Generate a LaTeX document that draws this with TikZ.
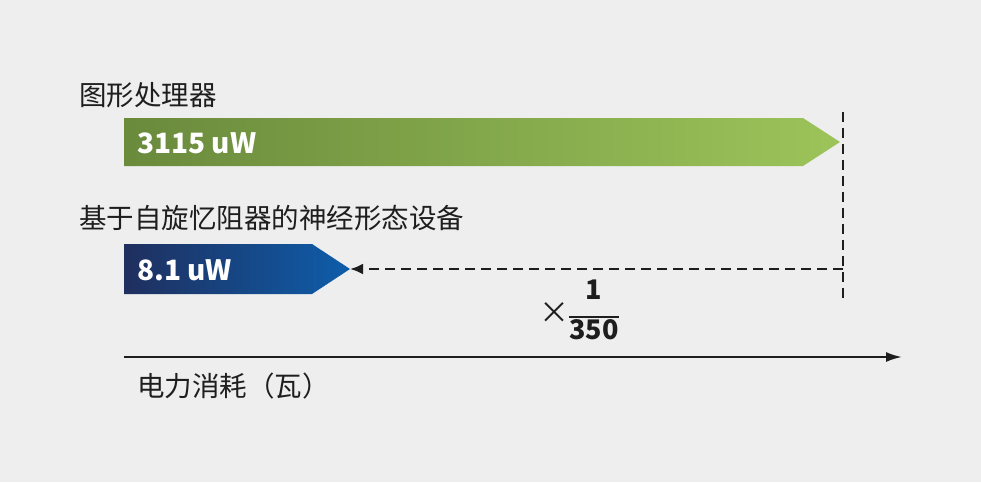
\documentclass[tikz,border=0pt]{standalone}
\usepackage{fontspec}
\setmainfont{Noto Sans CJK SC}
\usetikzlibrary{arrows.meta}
\definecolor{bg}{HTML}{EEEEEE}
\definecolor{gA}{HTML}{6A8A3C}
\definecolor{gB}{HTML}{9CC45A}
\definecolor{bA}{HTML}{1F2F5E}
\definecolor{bB}{HTML}{0E5DAA}
\definecolor{ink}{HTML}{1E1E1E}
\tikzset{lbl/.style={anchor=west,inner sep=0,font=\fontsize{27.5}{29}\selectfont,text=ink},
val/.style={anchor=west,inner sep=0,font=\bfseries\fontsize{28}{30}\selectfont,text=white},
dash line/.style={ink,line width=2.8pt,dash pattern=on 10pt off 6pt}}
\begin{document}
\begin{tikzpicture}[x=1pt,y=-1pt]
\fill[bg] (0,0) rectangle (981,482);
\useasboundingbox (0,0) rectangle (981,482);
\shade[left color=gA,right color=gB] (124,118) -- (803,118) -- (840,142) -- (803,166) -- (124,166) -- cycle;
\shade[left color=bA,right color=bB] (124,244) -- (312,244) -- (350,269) -- (312,294) -- (124,294) -- cycle;
\node[lbl] (t1) at (79,95) {图形处理器};
\node[lbl] (t2) at (79,218) {基于自旋忆阻器的神经形态设备};
\node[val] (v1) at (137,143) {3115 uW};
\node[val] (v2) at (137,270) {8.1 uW};
\coordinate (top) at (843,112);
\coordinate (bot) at (843,302);
\coordinate (hr) at (843,269);
\coordinate (hl) at (350,269);
\draw[dash line] (top) -- (bot);
\draw[dash line,-{Latex[length=13pt,width=11pt]}] (hr) -- (hl);
\coordinate (a0) at (124,357);
\coordinate (a1) at (902,357);
\draw[ink,line width=2.2pt,-{Latex[length=16pt,width=10pt]}] (a0) -- (a1);
\node[lbl] (ax) at (137,386) {电力消耗（瓦）};
\node[inner sep=0,font=\fontsize{30}{30}\selectfont,text=ink] (x) at (554,313) {×};
\node[inner sep=0,font=\bfseries\fontsize{27}{27}\selectfont,text=ink] (fr) at (594,314) {$\vcenter{\hbox{\begin{tabular}{@{}c@{}}1\\[-9pt]\rule{50pt}{1.8pt}\\[-6pt]350\end{tabular}}}$};
\end{tikzpicture}
\end{document}
